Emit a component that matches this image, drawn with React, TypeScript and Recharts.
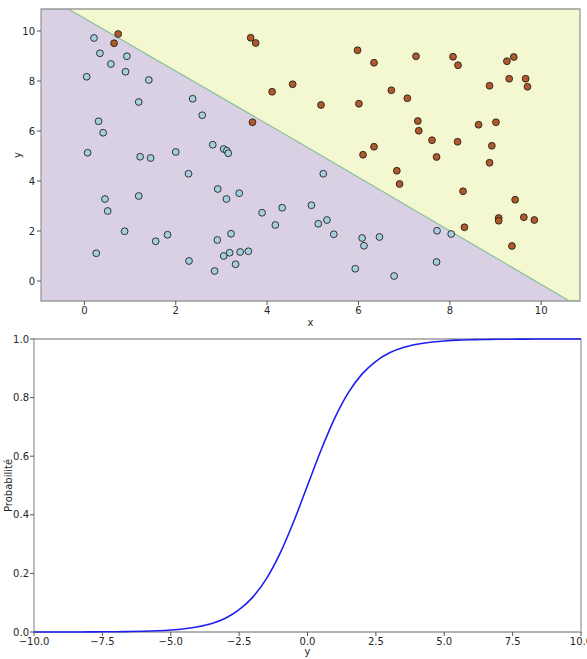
import { ComposedChart, LineChart, Line, Scatter, Area, XAxis, YAxis, ReferenceArea } from "recharts";

// classe 0 (bleu) : points sous la frontière
const blueX = [0.21, 0.34, 0.58, 0.93, 0.90, 0.05, 1.41, 1.19, 2.37, 2.58, 0.31, 0.41, 0.07, 1.22, 1.45, 2.00, 2.81, 3.05, 3.12, 3.15,
    5.23, 4.33, 4.97, 5.12, 5.31, 5.46, 6.08, 6.12, 6.46, 5.93, 6.78, 7.72, 8.03, 7.71,
    2.28, 2.92, 3.11, 3.39, 3.89, 4.18, 0.45, 0.51, 1.19, 0.88, 0.26, 1.56, 1.82, 2.29, 2.91, 3.21, 3.18, 3.05, 3.41, 3.59, 3.31, 2.85];
const blueY = [9.72, 9.11, 8.68, 8.99, 8.37, 8.17, 8.04, 7.16, 7.29, 6.63, 6.39, 5.93, 5.13, 4.97, 4.92, 5.16, 5.45, 5.28, 5.21, 5.11,
    4.29, 2.93, 3.03, 2.29, 2.44, 1.87, 1.72, 1.41, 1.76, 0.49, 0.20, 2.01, 1.88, 0.76,
    4.29, 3.68, 3.28, 3.51, 2.73, 2.24, 3.28, 2.80, 3.40, 1.99, 1.11, 1.59, 1.85, 0.80, 1.64, 1.89, 1.13, 1.00, 1.16, 1.19, 0.67, 0.40];

// classe 1 (marron)
const redX = [0.74, 0.65, 3.64, 3.75, 4.11, 4.56, 3.68,
    5.98, 6.34, 7.26, 8.07, 8.18, 9.25, 9.40, 9.30, 9.66, 9.70, 8.87, 5.18, 6.01, 6.72, 7.07, 7.30, 7.32, 7.61, 8.17, 8.63, 9.01, 8.92, 6.34, 6.10, 7.71,
    8.87, 6.84, 6.90, 8.29, 9.43, 9.07, 9.07, 9.62, 9.85, 8.32, 9.36];
const redY = [9.88, 9.51, 9.73, 9.52, 7.57, 7.87, 6.35,
    9.23, 8.73, 8.99, 8.97, 8.63, 8.79, 8.96, 8.09, 8.09, 7.77, 7.81, 7.04, 7.09, 7.63, 7.31, 6.40, 6.01, 5.63, 5.57, 6.25, 6.35, 5.41, 5.37, 5.05, 4.96,
    4.73, 4.41, 3.88, 3.59, 3.25, 2.52, 2.41, 2.55, 2.44, 2.15, 1.40];

// frontière de décision
const boundaryX = [-0.95, -0.35, 4.72, 10.62, 10.85];
const boundaryY = [10.88, 10.88, 5.52, -0.8, -0.8];

const scatterTicks = [0, 2, 4, 6, 8, 10];

// courbe de probabilité
const probX = [-10, -9.5, -9, -8.5, -8, -7.5, -7, -6.5, -6, -5.5, -5, -4.5, -4, -3.5, -3, -2.5, -2, -1.5, -1, -0.5,
    0, 0.5, 1, 1.5, 2, 2.5, 3, 3.5, 4, 4.5, 5, 5.5, 6, 6.5, 7, 7.5, 8, 8.5, 9, 9.5, 10];
const probY = [0.0000, 0.0001, 0.0001, 0.0002, 0.0003, 0.0006, 0.0009, 0.0015, 0.0025, 0.0041, 0.0067, 0.011, 0.018, 0.029, 0.047, 0.076, 0.119, 0.182, 0.269, 0.378,
    0.5, 0.622, 0.731, 0.818, 0.881, 0.924, 0.953, 0.971, 0.982, 0.989, 0.993, 0.996, 0.9975, 0.9985, 0.999, 0.9994, 0.9997, 0.9998, 0.9999, 0.9999, 1.0];
const probXTicks = [-10, -7.5, -5, -2.5, 0, 2.5, 5, 7.5, 10];
const probYTicks = [0, 0.2, 0.4, 0.6, 0.8, 1.0];

const blueData = blueX.map((x, i) => ({ x, y: blueY[i] }));
const redData = redX.map((x, i) => ({ x, y: redY[i] }));
const boundaryData = boundaryX.map((x, i) => ({ x, y: boundaryY[i] }));
const probData = probX.map((x, i) => ({ x, p: probY[i] }));

const font = "DejaVu Sans, sans-serif";
const tick = { fontSize: 10, fill: "#262626", fontFamily: font };
const tickLine = { stroke: "#555" };
const spine = "#9a9a9a";
const fmt = (v: number) => v.toFixed(1).replace("-", "\u2212");

const dot = (fill: string) => (props: any) => (
    <circle cx={props.cx} cy={props.cy} r={3.4} fill={fill} stroke="#222" strokeWidth={0.9} />
);

export default function App() {
    return (
        <div style={{ position: "absolute", left: 0, top: 0, width: 587, height: 659, background: "#fff" }}>
            <ComposedChart width={587} height={330} margin={{ top: 9, right: 7, left: 0, bottom: 0 }}>
                <XAxis
                    dataKey="x" type="number" domain={[-0.95, 10.85]} ticks={scatterTicks} allowDataOverflow
                    tick={tick} tickLine={tickLine} tickSize={4} tickMargin={2} axisLine={false} height={29} interval={0}
                    label={{ value: "x", position: "center", dy: 7, fontSize: 10, fill: "#262626", fontFamily: font }}
                />
                <YAxis
                    dataKey="y" type="number" domain={[-0.8, 10.88]} ticks={scatterTicks} allowDataOverflow
                    tick={tick} tickLine={tickLine} tickSize={4} tickMargin={2} axisLine={false} width={41} interval={0}
                    label={{ value: "y", position: "center", angle: -90, dx: -3, fontSize: 10, fill: "#262626", fontFamily: font }}
                />
                <ReferenceArea x1={-0.95} x2={10.85} y1={-0.8} y2={10.88} fill="#f3f8d1" fillOpacity={1} stroke="none" />
                <Area
                    data={boundaryData} dataKey="y" type="linear" baseValue="dataMin"
                    fill="#d9d1e3" fillOpacity={1} stroke="#8cbf9c" strokeWidth={1.2} isAnimationActive={false}
                />
                <Scatter data={blueData} dataKey="y" shape={dot("#a6cee3")} isAnimationActive={false} />
                <Scatter data={redData} dataKey="y" shape={dot("#b15928")} isAnimationActive={false} />
                <ReferenceArea x1={-0.95} x2={10.85} y1={-0.8} y2={10.88} fill="none" stroke={spine} strokeWidth={1.3} />
            </ComposedChart>
            <LineChart width={587} height={329} data={probData} margin={{ top: 9, right: 6, left: 0, bottom: 0 }}>
                <XAxis
                    dataKey="x" type="number" domain={[-10, 10]} ticks={probXTicks} tickFormatter={fmt}
                    tick={tick} tickLine={tickLine} tickSize={4} tickMargin={2} axisLine={false} height={27} interval={0}
                    label={{ value: "y", position: "center", dy: 6, fontSize: 10, fill: "#262626", fontFamily: font }}
                />
                <YAxis
                    type="number" domain={[0, 1]} ticks={probYTicks} tickFormatter={fmt}
                    tick={tick} tickLine={tickLine} tickSize={4} tickMargin={1} axisLine={false} width={34} interval={0}
                    label={{ value: "Probabilité", position: "center", angle: -90, dx: -9, fontSize: 10, fill: "#262626", fontFamily: font }}
                />
                <Line dataKey="p" type="monotone" dot={false} stroke="#1f1ff0" strokeWidth={1.6} isAnimationActive={false} />
                <ReferenceArea x1={-10} x2={10} y1={0} y2={1} fill="none" stroke={spine} strokeWidth={1.3} />
            </LineChart>
        </div>
    );
}
